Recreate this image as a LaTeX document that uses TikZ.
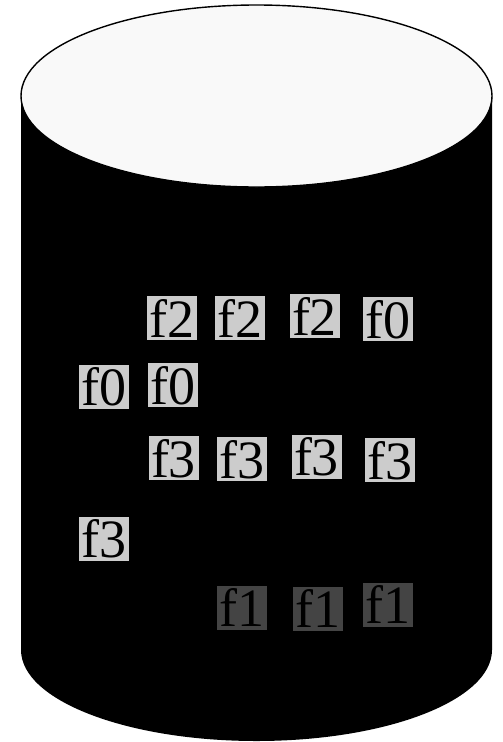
\documentclass[tikz,border=0pt]{standalone}
\usepackage{fontspec}
\setmainfont{Liberation Serif}
\usepackage{tikz}
\usetikzlibrary{positioning}
\definecolor{topfill}{RGB}{249,249,249}
\definecolor{lightblk}{RGB}{204,204,204}
\definecolor{darkblk}{RGB}{68,68,68}
\tikzset{
  filebox/.style = {fill=lightblk, inner sep=0pt, minimum width=50pt, minimum height=44pt,
                    text depth=0pt, font=\fontsize{54}{54}\selectfont},
  darkbox/.style = {filebox, fill=darkblk}
}

\begin{document}
\begin{tikzpicture}[x=1pt, y=-1pt]
                \useasboundingbox (0,0) rectangle (503,742);
                % cylinder body and lid
                \fill[black] (21,96) -- (21,650) arc[start angle=180, end angle=360, x radius=235.5pt, y radius=91pt]
                      -- (492,96) -- cycle;
                \draw[line width=1.4pt, fill=topfill] (256.5,96) ellipse [x radius=235.5pt, y radius=91pt];

                \foreach \t/\x/\y [count=\i] in {f2/172/318, f2/240/318, f2/314.5/316, f0/388/319,
                                                 f0/104/386.5, f0/173/385,
                                                 f3/173.5/458, f3/242/459, f3/316.5/456.5, f3/390/460,
                                                 f3/104/538.5} {
                  \node[filebox] (n\i) at (\x,\y) {\t};
                }
                \foreach \x/\y [count=\i] in {242/607.5, 318/608.5, 388/604.5} {
                  \node[darkbox] (d\i) at (\x,\y) {f1};
                }
            \end{tikzpicture}
\end{document}
